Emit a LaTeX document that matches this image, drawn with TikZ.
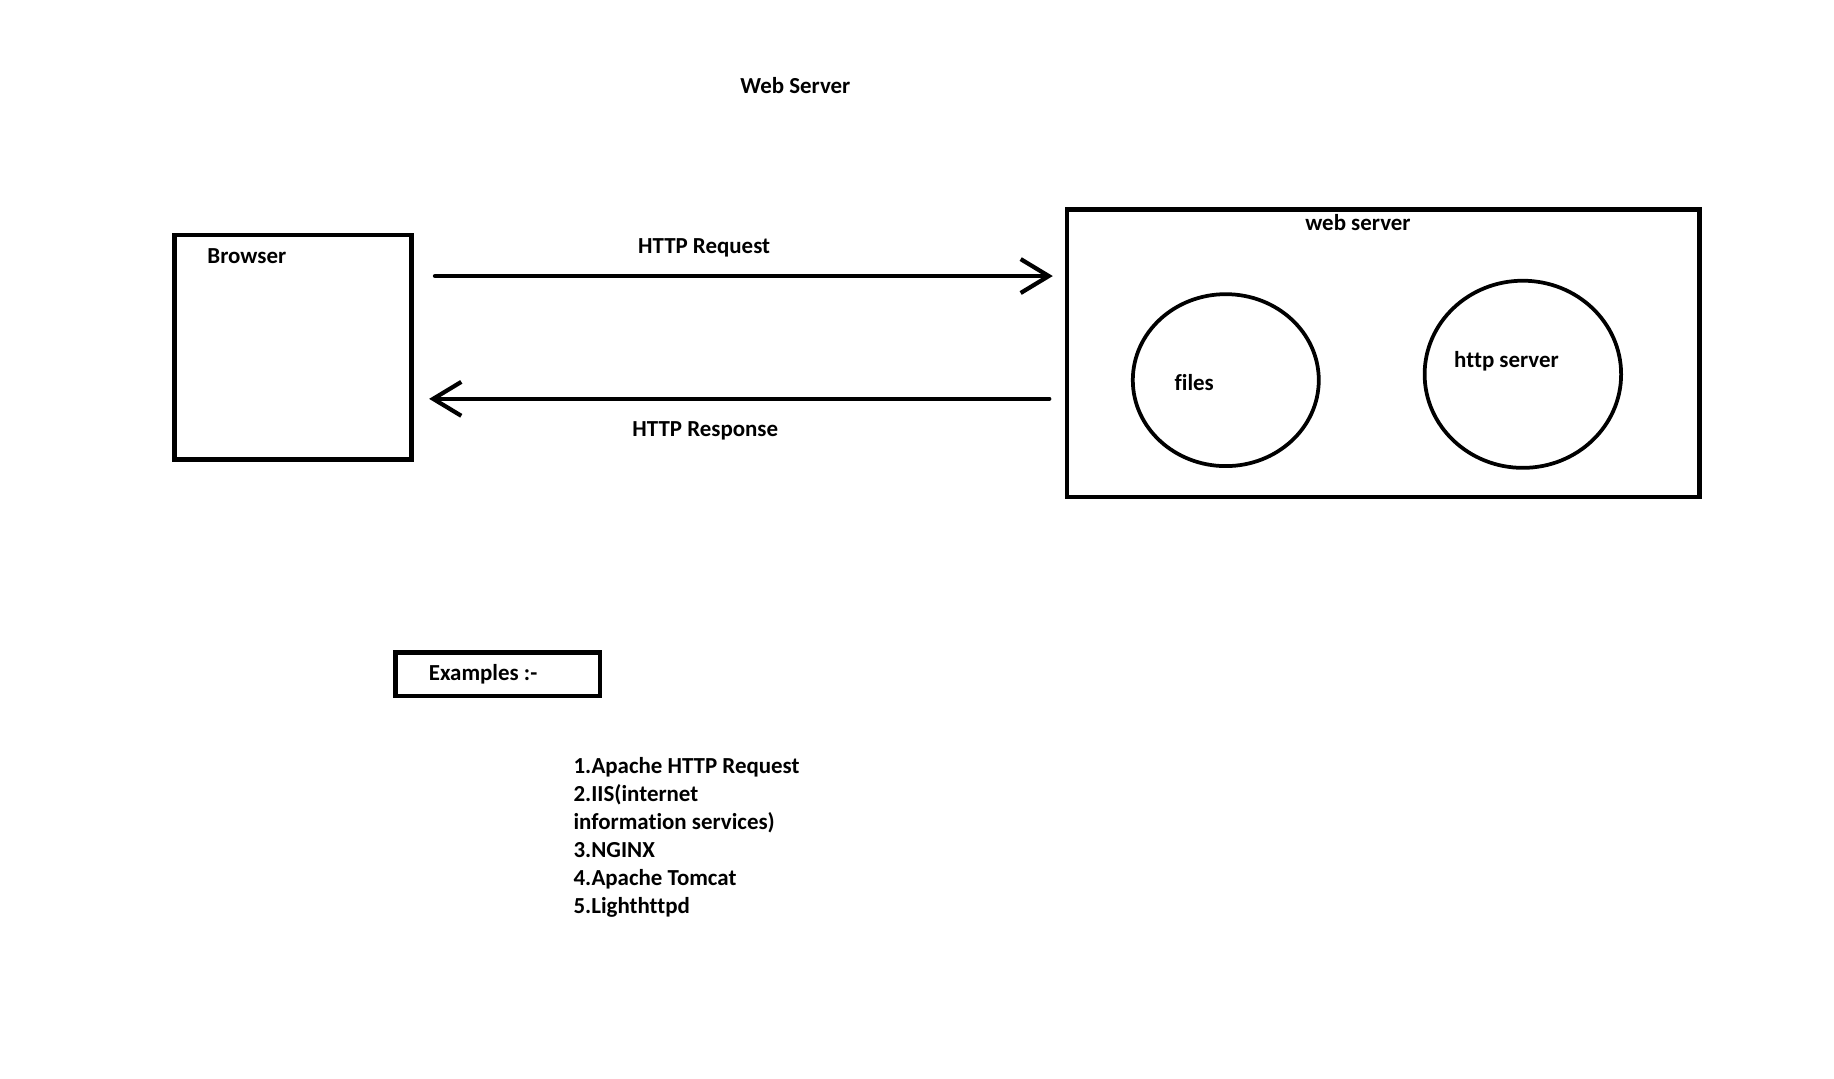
\documentclass[tikz,border=0pt]{standalone}
\usepackage{fontspec}
\setmainfont{Carlito}[Ligatures=NoCommon]
\usetikzlibrary{shapes.geometric,arrows.meta}

\begin{document}
\begin{tikzpicture}[x=0.5pt,y=-0.5pt]
\tikzset{boite/.style={draw, line width=1.9pt, inner sep=0pt},
bulle/.style={draw, ellipse, line width=1.6pt, inner sep=0pt},
texte/.style={font=\fontsize{9.8}{12}\selectfont\bfseries, inner sep=0pt, anchor=base},
fleche/.style={line width=1.8pt, line cap=round, -{Straight Barb[length=12pt, width=14.5pt, line width=1.8pt]}}}
\useasboundingbox (0,0) rectangle (1568,922);
\node[texte] (titre) at (680,80) {Web Server};
\node[boite, minimum width=101.5pt, minimum height=96pt] (B) at (250.5,297) {};
\node[texte] (Blab) at (211,225) {Browser};
\node[boite, minimum width=270.5pt, minimum height=123pt] (WS) at (1182.5,302) {};
\node[texte] (WSlab) at (1161,197) {web server};
\node[bulle, minimum width=79.5pt, minimum height=73.5pt] (F) at (1048,325) {};
\node[texte] (Flab) at (1021,334) {files};
\node[bulle, minimum width=84pt, minimum height=80pt] (H) at (1302,320) {};
\node[texte] (Hlab) at (1288,314) {http server};
\coordinate (Req) at (0,236);
\coordinate (Rep) at (0,341);
\draw[fleche, shorten <=9pt, shorten >=5pt] (B.east |- Req) -- (WS.west |- Req);
\draw[fleche, shorten <=6.5pt, shorten >=6.5pt] (WS.west |- Rep) -- (B.east |- Rep);
\node[texte] (Reqlab) at (602,217) {HTTP Request};
\node[texte] (Replab) at (603,373) {HTTP Response};
\node[boite, minimum width=87.5pt, minimum height=18.5pt] (E) at (425.5,576.5) {};
\node[texte] (Elab) at (413,582) {Examples :-};
\node[texte, anchor=north west, align=left] (L) at (490,647) {1.Apache HTTP Request\\2.IIS(internet\\information services)\\3.NGINX\\4.Apache Tomcat\\5.Lighthttpd};
\end{tikzpicture}
\end{document}
